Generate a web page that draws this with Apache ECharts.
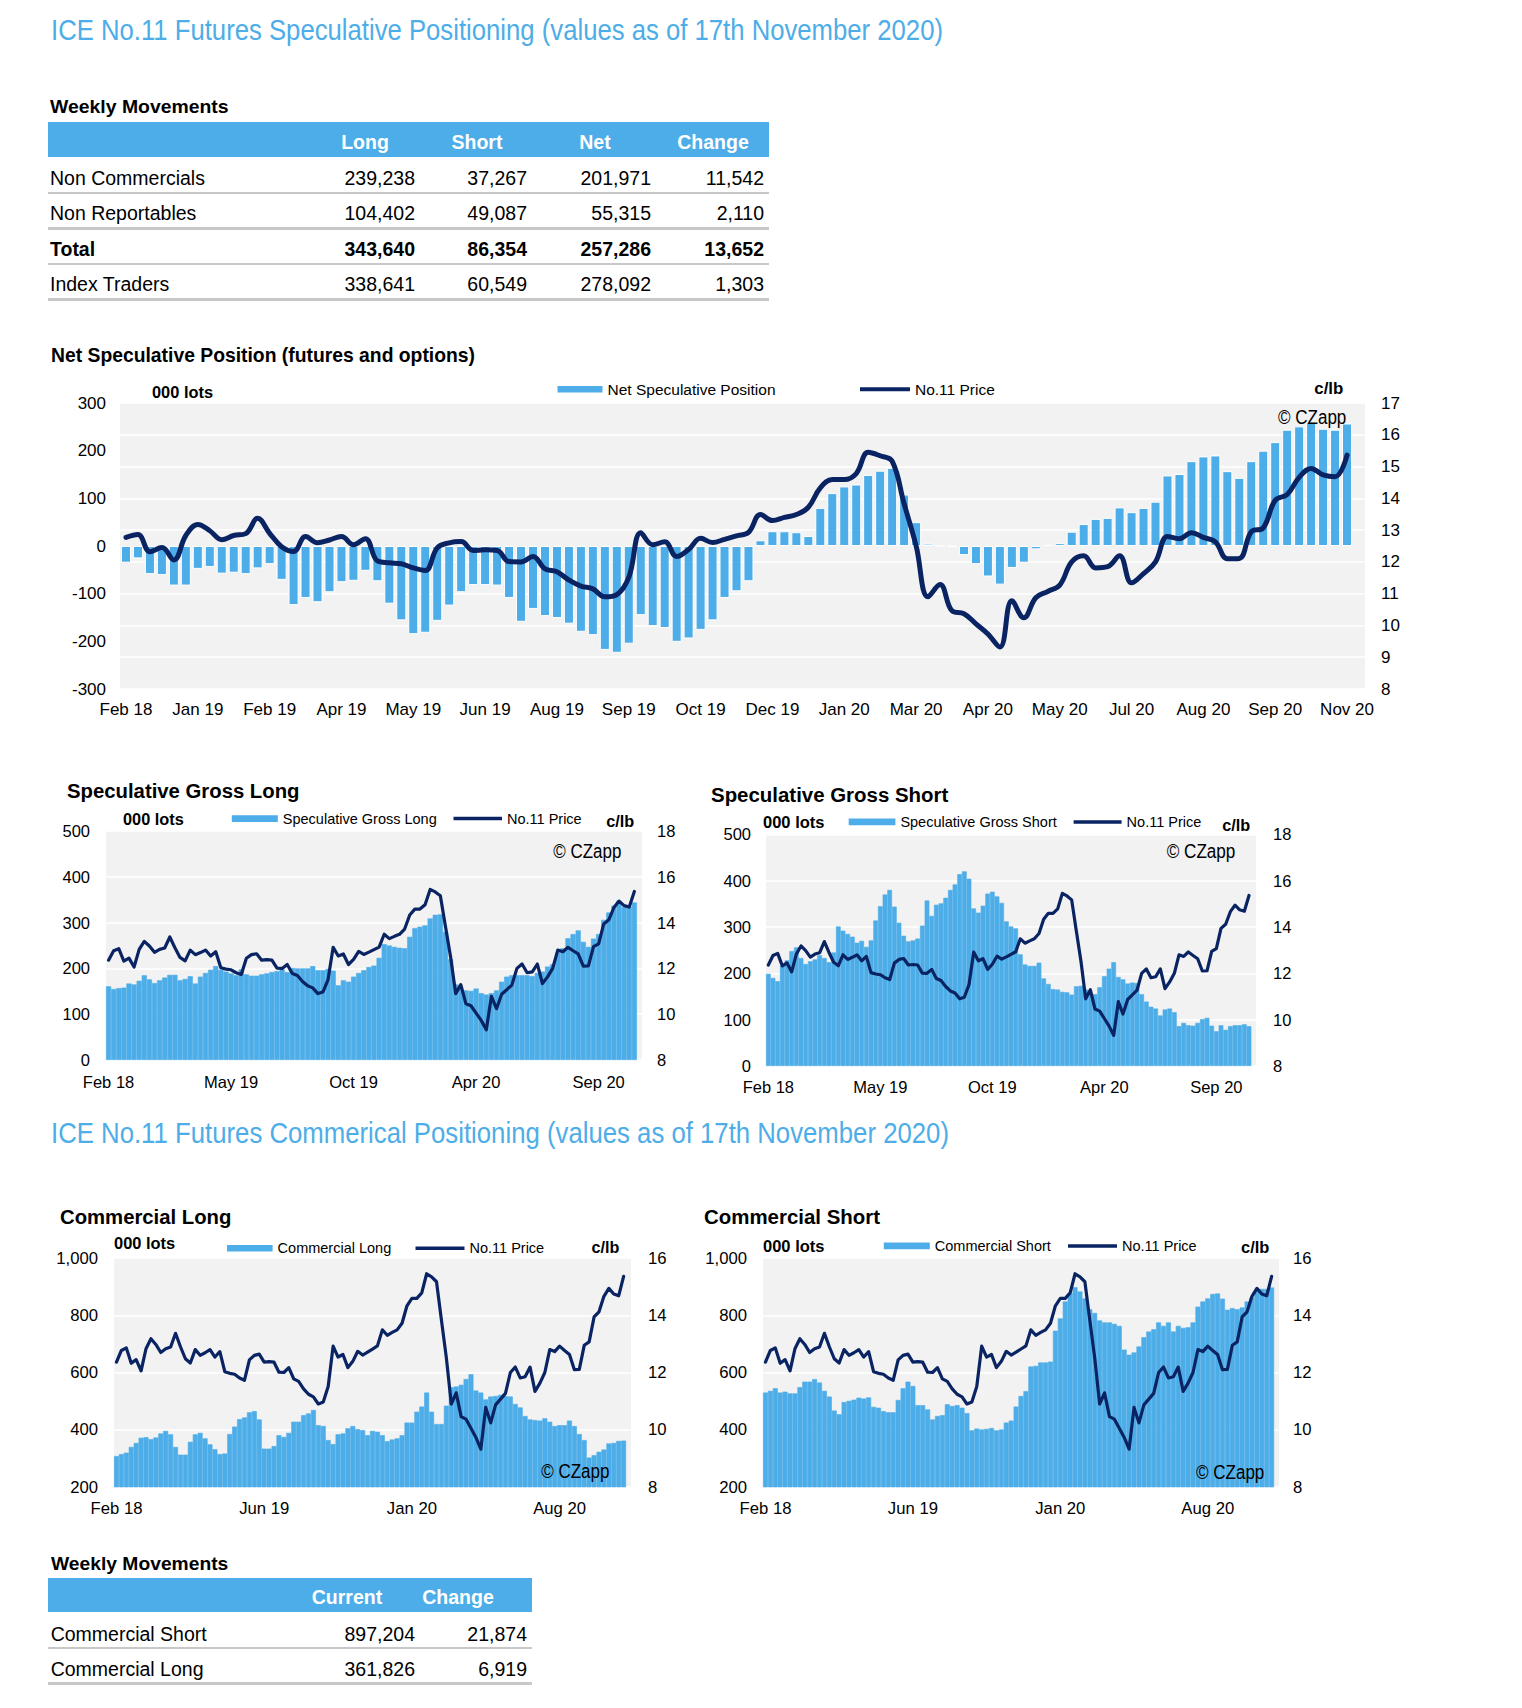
<!DOCTYPE html>
<html>
<head>
<meta charset="utf-8">
<script src="https://cdn.jsdelivr.net/npm/echarts/dist/echarts.min.js"></script>
<style>
html,body{margin:0;padding:0;background:#fff;overflow:hidden;}
#page{position:relative;width:1522px;height:1708px;overflow:hidden;}
#chart{position:absolute;left:0;top:0;width:1522px;height:1708px;}
.t{position:absolute;white-space:nowrap;font-family:"Liberation Sans",Arial,Helvetica,sans-serif;color:#000;line-height:1;}
.band{position:absolute;background:#4DADE8;}
.rule{position:absolute;background:#C8C8C8;height:2.6px;}
</style>
</head>
<body>
<div id="page"><div id="chart"></div></div>
<script>
// ---------------- DATA ----------------
const categories = Array.from({length: 105}, (_, i) => 'W' + i); // weekly slots (last slot empty)
const netTicks = ['Feb 18','Jan 19','Feb 19','Apr 19','May 19','Jun 19','Aug 19','Sep 19','Oct 19','Dec 19','Jan 20','Mar 20','Apr 20','May 20','Jul 20','Aug 20','Sep 20','Nov 20'];
const grossTicks = ['Feb 18','May 19','Oct 19','Apr 20','Sep 20'];
const commTicks = ['Feb 18','Jun 19','Jan 20','Aug 20'];

// No.11 price, c/lb (weekly)
const price = [12.36,12.77,12.86,12.32,12.45,12.06,12.83,13.18,12.98,12.70,
 12.83,12.89,13.37,12.90,12.48,12.33,12.80,12.60,12.69,12.80,
 12.54,12.73,12.03,11.97,11.94,11.81,11.73,12.44,12.60,12.64,
 12.36,12.38,12.36,12.01,12.00,12.17,11.78,11.69,11.43,11.24,
 11.15,10.90,10.97,11.51,12.92,12.54,12.63,12.17,12.39,12.74,
 12.61,12.71,12.82,12.93,13.49,13.30,13.40,13.49,13.72,14.33,
 14.59,14.59,14.78,15.45,15.34,15.17,13.83,12.51,10.90,11.29,
 10.46,10.37,10.05,9.73,9.32,10.78,10.24,10.87,11.07,11.27,
 12.00,12.19,11.81,11.85,12.19,11.34,11.63,12.00,12.80,12.73,
 12.92,12.77,12.63,12.10,12.11,12.95,13.07,13.94,14.12,14.66,
 14.94,14.74,14.68,15.36];

// Net speculative position, 000 lots (starts one week later than price)
const netSpec = [-35,-26,-59,-61,-83,-83,-48,-44,-58,-56,
 -59,-47,-38,-71,-124,-109,-118,-97,-76,-73,
 -52,-74,-121,-156,-185,-182,-157,-125,-97,-82,
 -82,-83,-109,-159,-132,-147,-151,-163,-180,-187,
 -218,-224,-205,-145,-168,-172,-201,-194,-176,-156,
 -109,-95,-74,12,31,31,29,21,80,111,
 125,129,149,158,164,108,50,5,0,-1,
 -19,-38,-64,-81,-46,-35,-7,2,6,30,
 46,57,59,81,71,80,93,148,151,178,
 188,190,157,143,178,200,218,244,251,260,
 246,244,257];

const grossLong = [161,155,157,158,167,165,173,185,176,168,
 174,180,186,186,174,177,183,167,182,190,
 197,205,197,193,189,185,198,187,184,184,
 187,189,192,194,198,192,201,200,200,200,
 205,196,196,199,195,163,174,171,182,190,
 196,203,206,223,253,250,247,245,244,269,
 288,291,294,309,317,318,280,220,165,155,
 152,151,156,146,143,146,152,171,182,185,
 185,185,185,183,190,193,204,209,234,244,
 266,275,283,258,247,265,275,306,322,337,
 348,334,334,344];

const grossShort = [199,190,183,217,228,248,256,233,220,226,
 230,239,233,224,245,301,292,285,279,266,
 270,257,271,314,345,370,380,344,309,281,
 269,271,275,303,357,324,348,351,363,380,
 392,414,420,404,340,331,346,372,376,366,
 352,312,301,297,241,219,216,216,223,189,
 177,166,165,160,159,154,172,173,165,158,
 155,170,194,210,224,192,187,178,180,179,
 155,139,128,124,109,122,124,116,86,93,
 88,87,93,101,104,87,75,88,78,86,
 88,88,90,86];

const commLong = [308,315,320,340,354,372,374,367,373,387,
 396,384,340,313,313,358,384,389,370,349,
 332,315,317,385,411,437,443,461,465,436,
 334,334,343,381,375,389,428,428,451,457,
 469,416,413,364,350,384,387,405,413,402,
 399,381,396,393,381,360,366,370,381,425,
 425,463,481,530,463,420,420,484,549,551,
 557,577,594,537,530,506,516,518,522,518,
 516,490,478,448,436,434,432,440,428,413,
 416,416,432,413,385,364,303,311,323,331,
 352,354,361,362];

const commShort = [530,536,545,530,533,527,527,549,568,568,
 577,565,536,516,467,454,497,501,505,512,
 509,513,480,477,465,461,461,504,545,568,
 553,486,486,471,436,448,451,489,483,486,
 477,458,398,404,401,403,406,398,401,425,
 432,481,518,535,621,623,635,635,638,746,
 789,848,876,898,883,859,821,808,782,775,
 775,770,763,680,662,670,691,723,743,751,
 775,763,775,743,763,756,758,775,830,848,
 859,874,876,858,819,825,821,827,848,862,
 885,892,892,897];

// Tables
const specRows = ['Non Commercials','Non Reportables','Total','Index Traders'];
const specCols = ['Long','Short','Net','Change'];
const specLong = [239238,104402,343640,338641];
const specShort = [37267,49087,86354,60549];
const specNet = [201971,55315,257286,278092];
const specChange = [11542,2110,13652,1303];
const commRows = ['Commercial Short','Commercial Long'];
const commCols = ['Current','Change'];
const commCurrent = [897204,361826];
const commChange = [21874,6919];

// ---------------- STYLE / LAYOUT ----------------
const FONT = '"Liberation Sans", Arial, Helvetica, sans-serif';
const NARROW = '"Liberation Sans Narrow","Arial Narrow","Liberation Sans",Arial,sans-serif';
const BLUE = '#4DADE8', NAVY = '#0A2463', BG = '#F2F2F2';
const page = document.getElementById('page');
const fits = [];
const fmt = n => n.toLocaleString('en-US');

function addText(str, o) {
  const d = document.createElement('div');
  d.className = 't';
  d.textContent = str;
  d.style.fontSize = o.fs + 'px';
  d.style.top = (o.cy - o.fs / 2) + 'px';
  if (o.bold) d.style.fontWeight = 'bold';
  if (o.color) d.style.color = o.color;
  if (o.family) d.style.fontFamily = o.family;
  if (o.anchor === 'right') { d.style.right = (1522 - o.x) + 'px'; d.style.transformOrigin = 'right center'; }
  else if (o.anchor === 'center') { d.style.left = o.x + 'px'; d.style.transform = 'translateX(-50%)'; }
  else { d.style.left = o.x + 'px'; d.style.transformOrigin = 'left center'; }
  page.appendChild(d);
  if (o.w) fits.push([d, o.w]);
  return d;
}
function box(cls, x, y, w, h) {
  const d = document.createElement('div');
  d.className = cls;
  d.style.left = x + 'px'; d.style.top = y + 'px'; d.style.width = w + 'px';
  if (h) d.style.height = h + 'px';
  page.appendChild(d);
}
function doFits() {
  fits.forEach(([d, w]) => {
    d.style.transform = 'none';
    const cw = d.getBoundingClientRect().width;
    if (cw > 0) d.style.transform = 'scaleX(' + (w / cw) + ')';
  });
}

// Section titles
addText('ICE No.11 Futures Speculative Positioning (values as of 17th November 2020)', {x: 51, cy: 30.5, fs: 29, color: BLUE, family: NARROW, w: 892});
addText('ICE No.11 Futures Commerical Positioning (values as of 17th November 2020)', {x: 51, cy: 1133, fs: 29, color: BLUE, family: NARROW, w: 898});

// Top table
addText('Weekly Movements', {x: 50, cy: 107.5, fs: 18.6, bold: true, w: 178.6});
box('band', 48, 122, 721, 35);
const specHeadX = [365, 477, 595, 713];
const specValX = [415, 527, 651, 764];
const specRowY = [178.3, 213.3, 249.3, 284.3];
const specRuleY = [191.5, 227.4, 262.7, 298];
specCols.forEach((c, j) => addText(c, {x: specHeadX[j], cy: 143, fs: 19.5, bold: true, color: '#fff', anchor: 'center'}));
specRows.forEach((r, i) => {
  const bold = r === 'Total';
  addText(r, {x: 50, cy: specRowY[i], fs: 19.5, bold});
  [specLong, specShort, specNet, specChange].forEach((arr, j) =>
    addText(fmt(arr[i]), {x: specValX[j], cy: specRowY[i], fs: 19.5, bold, anchor: 'right'}));
  box('rule', 48, specRuleY[i], 721);
});

// Bottom table
addText('Weekly Movements', {x: 50.7, cy: 1564, fs: 18.6, bold: true, w: 177.3});
box('band', 48, 1578, 484, 34);
const commHeadX = [347, 458];
const commValX = [415, 527];
const commRowY = [1634.5, 1669.5];
const commRuleY = [1646.8, 1682.3];
commCols.forEach((c, j) => addText(c, {x: commHeadX[j], cy: 1598, fs: 19.5, bold: true, color: '#fff', anchor: 'center'}));
commRows.forEach((r, i) => {
  addText(r, {x: 50.7, cy: commRowY[i], fs: 19.5});
  [commCurrent, commChange].forEach((arr, j) =>
    addText(fmt(arr[i]), {x: commValX[j], cy: commRowY[i], fs: 19.5, anchor: 'right'}));
  box('rule', 48, commRuleY[i], 484);
});

// ---------------- CHART PANELS ----------------
const panels = [
  {title: ['Net Speculative Position (futures and options)', 50.6, 355.7, 424, 19.3],
   lots: [151.6, 392, 61], clb: [1343.5, 388, 29], cz: [1346, 418, 68.4],
   grid: {left: 120, top: 403, width: 1245, height: 286},
   cats: categories.slice(1), ticks: netTicks, step: 6,
   lAx: [-300, 300, 100], rAx: [8, 17, 1], fs: 17, lm: 14, rm: 16, xm: 11.5,
   barName: 'Net Speculative Position', bars: netSpec, prices: price.slice(1), smooth: 0.4, lw: 5,
   gap: '16%', border: '#ffffff', bw: 1,
   leg: [557.5, 45, 6.5, 860, 50, 4, 389, 15.5]},
  {title: ['Speculative Gross Long', 66.5, 790.7, 232.5, 20],
   lots: [122.9, 819, 60.8], clb: [634, 821, 28], cz: [621, 852, 68],
   grid: {left: 106, top: 831, width: 536, height: 229},
   cats: categories, ticks: grossTicks, step: 24,
   lAx: [0, 500, 100], rAx: [8, 18, 2], fs: 16.5, lm: 16, rm: 15, xm: 13.4,
   barName: 'Speculative Gross Long', bars: grossLong, prices: price, smooth: false, lw: 3.2,
   gap: '0%', border: BLUE, bw: 0.6,
   leg: [231.8, 46, 6.7, 453.5, 48.5, 3.5, 818.3, 14.5]},
  {title: ['Speculative Gross Short', 710.7, 795, 237.3, 20],
   lots: [763, 822, 61.5], clb: [1249.8, 825, 28], cz: [1235.6, 852, 68.6],
   grid: {left: 766, top: 834.3, width: 490, height: 231.7},
   cats: categories, ticks: grossTicks, step: 24,
   lAx: [0, 500, 100], rAx: [8, 18, 2], fs: 16.5, lm: 15, rm: 17, xm: 12.4,
   barName: 'Speculative Gross Short', bars: grossShort, prices: price, smooth: false, lw: 3.2,
   gap: '0%', border: BLUE, bw: 0.6,
   leg: [848.7, 46.7, 6.7, 1073.6, 48, 3.5, 821.7, 14.5]},
  {title: ['Commercial Long', 60.4, 1217, 171.4, 20],
   lots: [113.5, 1243.3, 61.2], clb: [618.8, 1247.7, 27.8], cz: [609, 1471.7, 68],
   grid: {left: 114, top: 1258, width: 517, height: 229},
   cats: categories, ticks: commTicks, step: 30,
   lAx: [200, 1000, 200], rAx: [8, 16, 2], fs: 16.7, lm: 16, rm: 17, xm: 13,
   barName: 'Commercial Long', bars: commLong, prices: price, smooth: false, lw: 3.2,
   gap: '0%', border: BLUE, bw: 0.6,
   leg: [227, 45.6, 6.7, 415.5, 49, 3.5, 1248, 14.5]},
  {title: ['Commercial Short', 704, 1217, 176, 20],
   lots: [763, 1246, 61.5], clb: [1269, 1247.7, 28.3], cz: [1264.4, 1473, 68.4],
   grid: {left: 763, top: 1258, width: 516, height: 229},
   cats: categories, ticks: commTicks, step: 30,
   lAx: [200, 1000, 200], rAx: [8, 16, 2], fs: 16.7, lm: 16, rm: 14, xm: 13,
   barName: 'Commercial Short', bars: commShort, prices: price, smooth: false, lw: 3.2,
   gap: '0%', border: BLUE, bw: 0.6,
   leg: [883.8, 46, 6.7, 1068, 49, 3.5, 1245.7, 14.5]}
];

const option = {animation: false, grid: [], xAxis: [], yAxis: [], series: [], legend: []};
const lbl = (fs, extra) => Object.assign({color: '#000', fontSize: fs, fontFamily: FONT}, extra || {});

panels.forEach((p, i) => {
  // overlay texts
  addText(p.title[0], {x: p.title[1], cy: p.title[2], fs: p.title[4], bold: true, w: p.title[3]});
  addText('000 lots', {x: p.lots[0], cy: p.lots[1], fs: 17, bold: true, w: p.lots[2]});
  addText('c/lb', {x: p.clb[0], cy: p.clb[1], fs: 17, bold: true, anchor: 'right', w: p.clb[2]});
  addText('\u00A9 CZapp', {x: p.cz[0], cy: p.cz[1], fs: 19.5, family: NARROW, anchor: 'right', w: p.cz[2]});

  option.grid.push(Object.assign({show: true, backgroundColor: BG, borderWidth: 0, containLabel: false, outerBoundsMode: 'none'}, p.grid));
  const ticks = p.ticks, step = p.step;
  option.xAxis.push({
    gridIndex: i, type: 'category', data: p.cats, boundaryGap: true,
    axisLine: {show: false}, axisTick: {show: false}, splitLine: {show: false},
    axisLabel: lbl(p.fs, {interval: step - 1, margin: p.xm, showMinLabel: true, showMaxLabel: true, hideOverlap: false,
      formatter: (v, idx) => (idx % step === 0 && ticks[idx / step]) ? ticks[idx / step] : ''})
  });
  option.yAxis.push({
    gridIndex: i, type: 'value', position: 'left', min: p.lAx[0], max: p.lAx[1], interval: p.lAx[2],
    axisLine: {show: false}, axisTick: {show: false}, splitLine: {show: false},
    axisLabel: lbl(p.fs, {margin: p.lm})
  });
  option.yAxis.push({
    gridIndex: i, type: 'value', position: 'right', min: p.rAx[0], max: p.rAx[1], interval: p.rAx[2],
    axisLine: {show: false}, axisTick: {show: false},
    splitLine: {show: true, lineStyle: {color: '#ffffff', width: 1.5}},
    axisLabel: lbl(p.fs, {margin: p.rm})
  });
  option.series.push({
    name: p.barName, type: 'bar', xAxisIndex: i, yAxisIndex: 2 * i, data: p.bars,
    barCategoryGap: p.gap, z: 2,
    itemStyle: {color: BLUE, borderColor: p.border, borderWidth: p.bw}
  });
  option.series.push({
    name: 'No.11 Price', type: 'line', xAxisIndex: i, yAxisIndex: 2 * i + 1, data: p.prices,
    smooth: p.smooth, symbol: 'none', z: 5,
    lineStyle: {color: NAVY, width: p.lw, cap: 'round', join: 'round'}, itemStyle: {color: NAVY}
  });
  const L = p.leg;
  const base = {orient: 'horizontal', padding: 0, itemGap: 0, selectedMode: false, icon: 'rect',
    textStyle: {color: '#000', fontSize: L[7], fontFamily: FONT}, top: L[6] - L[7] / 2};
  option.legend.push(Object.assign({}, base, {data: [p.barName], left: L[0], itemWidth: L[1], itemHeight: L[2],
    itemStyle: {color: BLUE, borderWidth: 0}}));
  option.legend.push(Object.assign({}, base, {data: ['No.11 Price'], left: L[3], itemWidth: L[4], itemHeight: L[5],
    itemStyle: {color: NAVY, borderWidth: 0}}));
});

const chart = echarts.init(document.getElementById('chart'), null, {renderer: 'svg', width: 1522, height: 1708});
chart.setOption(option);

doFits();
if (document.fonts && document.fonts.ready) document.fonts.ready.then(doFits);
</script>
</body>
</html>
